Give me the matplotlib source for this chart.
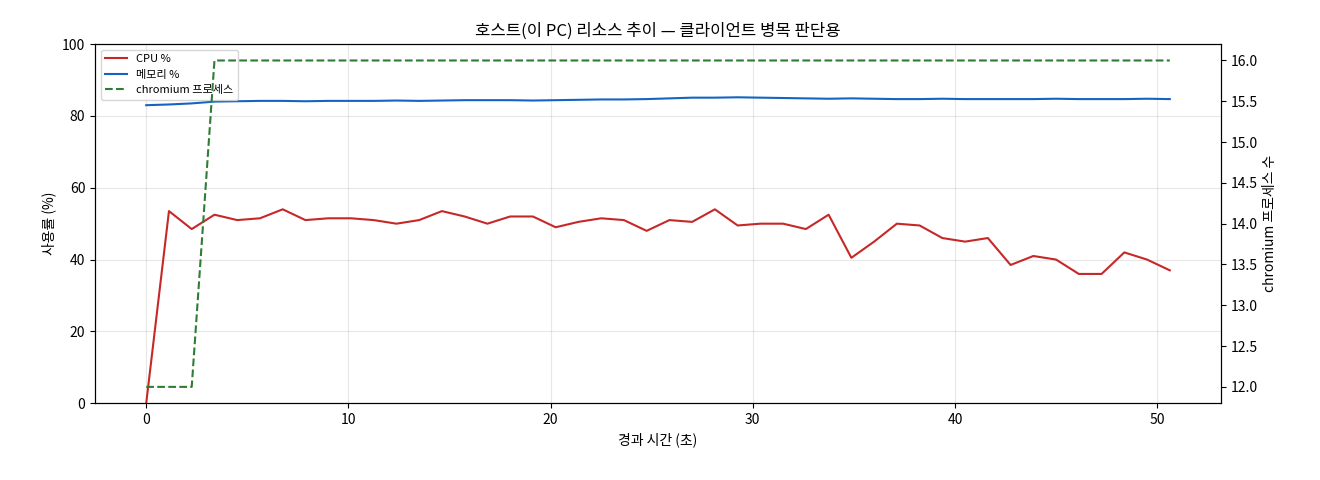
import matplotlib
matplotlib.use("Agg")
import matplotlib.pyplot as plt
import numpy as np

plt.rcParams['font.family'] = ['Noto Sans CJK KR', 'DejaVu Sans']
plt.rcParams['axes.unicode_minus'] = False

t = [i * 1.125 for i in range(46)]
cpu = [0, 53.5, 48.5, 52.5, 51, 51.5, 54, 51, 51.5, 51.5, 51, 50, 51, 53.5, 52, 50, 52, 52, 49, 50.5,
       51.5, 51, 48, 51, 50.5, 54, 49.5, 50, 50, 48.5, 52.5, 40.5, 45, 50, 49.5, 46, 45, 46, 38.5, 41,
       40, 36, 36, 42, 40, 37]
mem = [83.0, 83.2, 83.5, 84.0, 84.1, 84.2, 84.2, 84.1, 84.2, 84.2, 84.2, 84.3, 84.2, 84.3, 84.4, 84.4,
       84.4, 84.3, 84.4, 84.5, 84.6, 84.6, 84.7, 84.9, 85.1, 85.1, 85.2, 85.1, 85.0, 84.9, 84.8, 84.9,
       84.8, 84.7, 84.7, 84.8, 84.7, 84.7, 84.7, 84.7, 84.8, 84.7, 84.7, 84.7, 84.8, 84.7]
chrom = [12, 12, 12] + [16] * 43

fig, ax = plt.subplots(figsize=(13.2, 4.8), dpi=100)
l1, = ax.plot(t, cpu, color='#c62828', lw=1.5, label='CPU %')
l2, = ax.plot(t, mem, color='#1565c0', lw=1.5, label='메모리 %')
ax.set_ylim(0, 100)
ax.set_xlabel('경과 시간 (초)')
ax.set_ylabel('사용률 (%)')
ax.grid(True, alpha=0.3)
ax2 = ax.twinx()
l3, = ax2.plot(t, chrom, color='#2e7d32', lw=1.5, ls='--', label='chromium 프로세스')
ax2.set_ylabel('chromium 프로세스 수')
ax.legend(handles=[l1, l2, l3], loc='upper left', fontsize=8)
ax.set_title('호스트(이 PC) 리소스 추이 — 클라이언트 병목 판단용')
fig.subplots_adjust(left=0.072, right=0.925, top=0.908, bottom=0.16)
fig.savefig('out.png')
